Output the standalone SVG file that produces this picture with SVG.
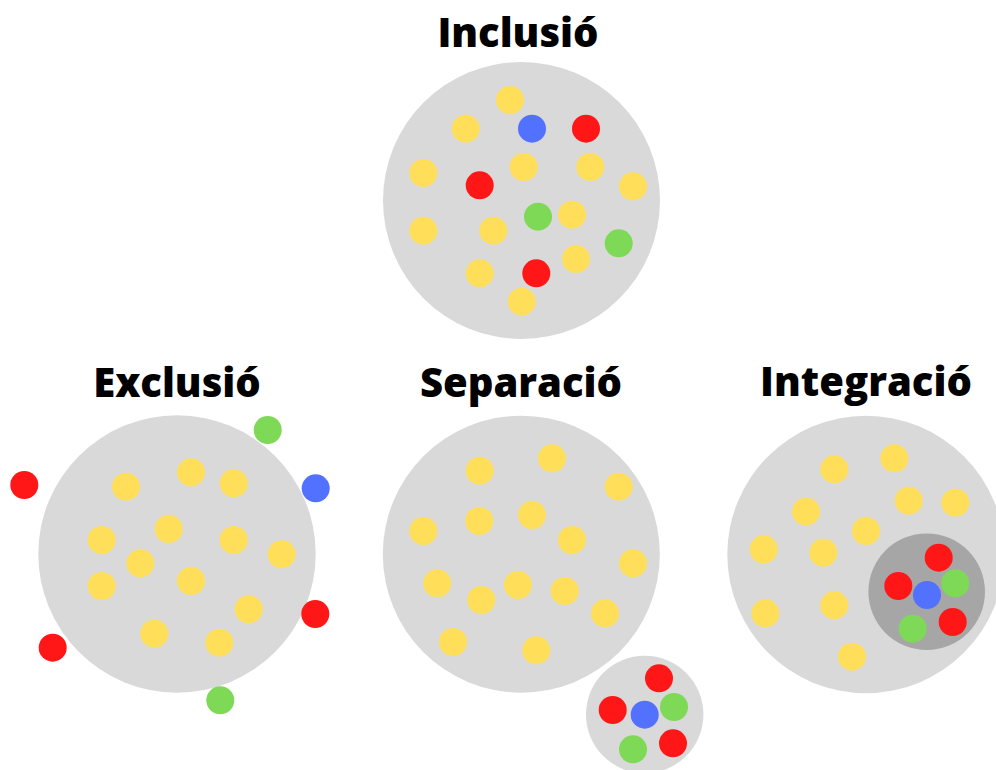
<svg xmlns="http://www.w3.org/2000/svg" width="996" height="770" viewBox="0 0 996 770">
  <style>
    .title { font-family: "Open Sans", "Liberation Sans", sans-serif; font-weight: 800; font-size: 40px; fill: #000; text-anchor: middle; }
    .big { fill: #d9d9d9; }
    .inner { fill: #a6a6a6; }
    .y { fill: #ffde59; }
    .r { fill: #ff1616; }
    .b { fill: #5271ff; }
    .g { fill: #7ed957; }
  </style>
  <rect width="996" height="770" fill="#ffffff"/>

  <!-- Inclusion: all groups mixed inside one society -->
  <g id="inclusio">
    <text class="title" x="518" y="47">Inclusió</text>
    <circle class="big" cx="521.5" cy="200.5" r="138.5"/>
    <g>
      <circle class="y" cx="510" cy="100" r="14"/>
      <circle class="y" cx="465.7" cy="128.7" r="14"/>
      <circle class="b" cx="532" cy="128.7" r="14"/>
      <circle class="r" cx="586" cy="128.7" r="14"/>
      <circle class="y" cx="423.3" cy="173" r="14"/>
      <circle class="r" cx="479.7" cy="185.3" r="14"/>
      <circle class="y" cx="523.7" cy="167" r="14"/>
      <circle class="y" cx="590.3" cy="167" r="14"/>
      <circle class="y" cx="633" cy="186.3" r="14"/>
      <circle class="g" cx="538" cy="216.7" r="14"/>
      <circle class="y" cx="572" cy="214.7" r="14"/>
      <circle class="y" cx="423.3" cy="230.7" r="14"/>
      <circle class="y" cx="493.3" cy="230.7" r="14"/>
      <circle class="g" cx="618.7" cy="243.3" r="14"/>
      <circle class="y" cx="576" cy="259" r="14"/>
      <circle class="y" cx="479.7" cy="273.3" r="14"/>
      <circle class="r" cx="536.3" cy="273.3" r="14"/>
      <circle class="y" cx="521.7" cy="301.7" r="14"/>
    </g>
  </g>

  <!-- Exclusion: minorities left outside -->
  <g id="exclusio">
    <text class="title" x="177" y="397">Exclusió</text>
    <circle class="big" cx="177" cy="554" r="138.7"/>
    <g>
      <circle class="g" cx="267.7" cy="430" r="14"/>
      <circle class="r" cx="24.3" cy="485" r="14"/>
      <circle class="b" cx="315.7" cy="488.3" r="14"/>
      <circle class="y" cx="191" cy="472.3" r="14"/>
      <circle class="y" cx="126" cy="486.7" r="14"/>
      <circle class="y" cx="233.7" cy="483.3" r="14"/>
      <circle class="y" cx="168.7" cy="529" r="14"/>
      <circle class="y" cx="101.7" cy="540" r="14"/>
      <circle class="y" cx="233.7" cy="540" r="14"/>
      <circle class="y" cx="140.3" cy="563.3" r="14"/>
      <circle class="y" cx="281.7" cy="554.3" r="14"/>
      <circle class="y" cx="101.7" cy="586" r="14"/>
      <circle class="y" cx="191" cy="581" r="14"/>
      <circle class="y" cx="248.7" cy="609.3" r="14"/>
      <circle class="r" cx="315.3" cy="614" r="14"/>
      <circle class="y" cx="154.3" cy="633.7" r="14"/>
      <circle class="y" cx="219.3" cy="642.7" r="14"/>
      <circle class="r" cx="52.7" cy="647.7" r="14"/>
      <circle class="g" cx="220.3" cy="700.3" r="14"/>
    </g>
  </g>

  <!-- Separation: minorities grouped in a separate circle -->
  <g id="separacio">
    <text class="title" x="521" y="397">Separació</text>
    <circle class="big" cx="521.3" cy="554.2" r="138.5"/>
    <g>
      <circle class="y" cx="479.7" cy="470.7" r="14"/>
      <circle class="y" cx="552" cy="458.3" r="14"/>
      <circle class="y" cx="618.7" cy="486.7" r="14"/>
      <circle class="y" cx="423.3" cy="531" r="14"/>
      <circle class="y" cx="479.3" cy="521" r="14"/>
      <circle class="y" cx="532" cy="515" r="14"/>
      <circle class="y" cx="572" cy="540" r="14"/>
      <circle class="y" cx="633" cy="563.3" r="14"/>
      <circle class="y" cx="437.3" cy="583.3" r="14"/>
      <circle class="y" cx="481.3" cy="600" r="14"/>
      <circle class="y" cx="518" cy="585" r="14"/>
      <circle class="y" cx="564.7" cy="591" r="14"/>
      <circle class="y" cx="605" cy="613.3" r="14"/>
      <circle class="y" cx="453" cy="642" r="14"/>
      <circle class="y" cx="536.3" cy="650.3" r="14"/>
    </g>
    <circle class="big" cx="644.7" cy="714.5" r="58.7"/>
    <g>
      <circle class="r" cx="659" cy="678.3" r="14"/>
      <circle class="r" cx="612.7" cy="710" r="14"/>
      <circle class="b" cx="644.7" cy="714.7" r="14"/>
      <circle class="g" cx="674" cy="707" r="14"/>
      <circle class="r" cx="673" cy="743.3" r="14"/>
      <circle class="g" cx="633" cy="749.3" r="14"/>
    </g>
  </g>

  <!-- Integration: minorities kept together inside the society -->
  <g id="integracio">
    <text class="title" x="866" y="396">Integració</text>
    <circle class="big" cx="866" cy="554.5" r="138.7"/>
    <g>
      <circle class="y" cx="834.3" cy="469.3" r="14"/>
      <circle class="y" cx="894.3" cy="458.3" r="14"/>
      <circle class="y" cx="908.7" cy="500.7" r="14"/>
      <circle class="y" cx="955.3" cy="502.7" r="14"/>
      <circle class="y" cx="806" cy="511.7" r="14"/>
      <circle class="y" cx="866" cy="531" r="14"/>
      <circle class="y" cx="763.7" cy="549.3" r="14"/>
      <circle class="y" cx="823.3" cy="552.7" r="14"/>
      <circle class="y" cx="765.3" cy="613.3" r="14"/>
      <circle class="y" cx="834.3" cy="605.3" r="14"/>
      <circle class="y" cx="852" cy="656.7" r="14"/>
    </g>
    <circle class="inner" cx="926.7" cy="591.7" r="58.3"/>
    <g>
      <circle class="r" cx="938.7" cy="557.7" r="14"/>
      <circle class="r" cx="898.3" cy="586" r="14"/>
      <circle class="g" cx="955.3" cy="583.3" r="14"/>
      <circle class="b" cx="927" cy="595" r="14"/>
      <circle class="g" cx="912.7" cy="628.7" r="14"/>
      <circle class="r" cx="952.7" cy="622" r="14"/>
    </g>
  </g>
</svg>
